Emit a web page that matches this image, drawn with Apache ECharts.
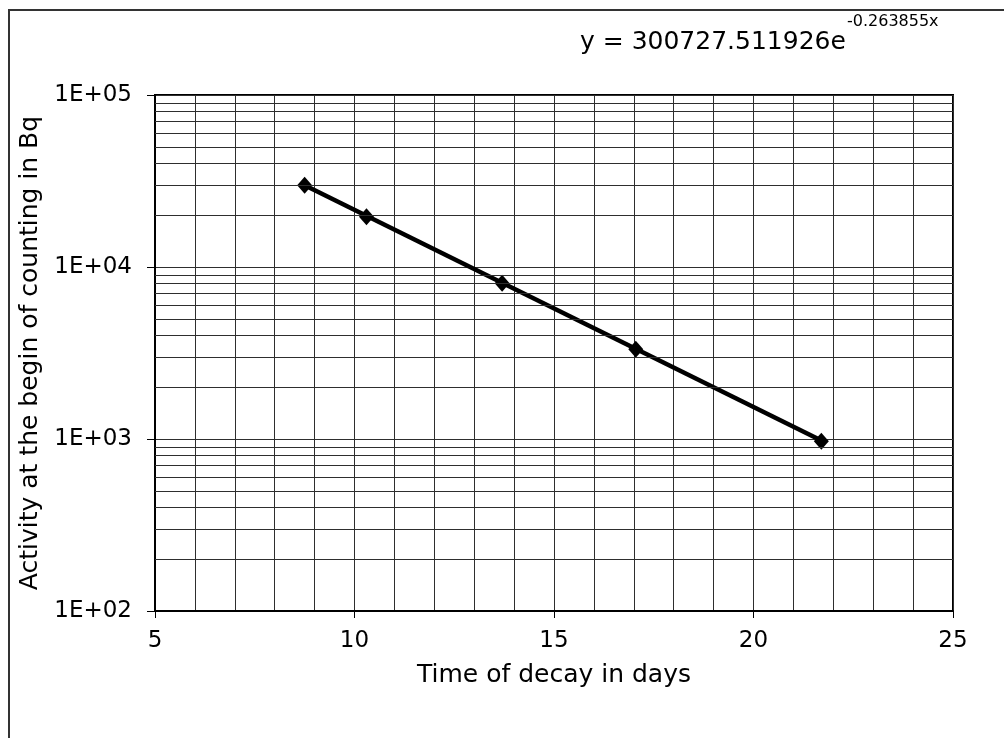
<!DOCTYPE html>
<html>
<head>
<meta charset="utf-8">
<script src="https://cdn.jsdelivr.net/npm/echarts@6/dist/echarts.min.js"></script>
<style>
  html, body { margin: 0; padding: 0; background: #fff; }
  #chart { width: 1004px; height: 738px; }
</style>
</head>
<body>
<div id="chart"></div>
<script>
// Measured decay: time since production (days) vs. activity at start of counting (Bq)
const decayDays = [8.75, 10.3, 13.7, 17.05, 21.7];
const activityBq = [29900, 19600, 8050, 3320, 970];

// Exponential trend line, drawn between its first and last points
const trendDays = [8.75, 21.7];
const trendBq = [29900, 980];

// Logarithmic gridlines between the decades
const minorGridValues = [
  200, 300, 400, 500, 600, 700, 800, 900,
  2000, 3000, 4000, 5000, 6000, 7000, 8000, 9000,
  20000, 30000, 40000, 50000, 60000, 70000, 80000, 90000
];

const xTicks = { min: 5, max: 25, interval: 5 };
const yRange = { min: 100, max: 100000 };

const equationMain = 'y = 300727.511926e';
const equationExp = '-0.263855x';

const FONT = '"DejaVu Sans", "Liberation Sans", Arial, sans-serif';
const GRID_COLOR = '#2e2e2e';

const chart = echarts.init(document.getElementById('chart'), null, { renderer: 'canvas' });

chart.setOption({
  backgroundColor: '#ffffff',
  animation: false,
  grid: {
    left: 155, top: 95, right: 51, bottom: 127,
    show: true, borderColor: '#000', borderWidth: 2, backgroundColor: 'transparent'
  },
  xAxis: {
    type: 'value',
    min: xTicks.min, max: xTicks.max, interval: xTicks.interval,
    name: 'Time of decay in days',
    nameLocation: 'middle', nameGap: 52,
    nameTextStyle: { color: '#000', fontFamily: FONT, fontSize: 25 },
    axisLine: { show: true, onZero: false, lineStyle: { color: '#000', width: 2 } },
    axisTick: { show: true, length: 7, lineStyle: { color: '#000', width: 1 } },
    axisLabel: { color: '#000', fontFamily: FONT, fontSize: 23, margin: 19 },
    splitLine: { show: true, lineStyle: { color: GRID_COLOR, width: 1 } },
    minorTick: { show: false, splitNumber: 5 },
    minorSplitLine: { show: true, lineStyle: { color: GRID_COLOR, width: 1 } }
  },
  yAxis: {
    type: 'log', logBase: 10,
    min: yRange.min, max: yRange.max,
    name: 'Activity at the begin of counting in Bq',
    nameLocation: 'middle', nameGap: 105,
    nameTextStyle: { color: '#000', fontFamily: FONT, fontSize: 25 },
    axisLine: { show: true, lineStyle: { color: '#000', width: 2 } },
    axisTick: { show: true, length: 8, lineStyle: { color: '#000', width: 1 } },
    axisLabel: {
      color: '#000', fontFamily: FONT, fontSize: 23, margin: 23,
      formatter: v => '1E+' + String(Math.round(Math.log10(v))).padStart(2, '0')
    },
    splitLine: { show: true, lineStyle: { color: GRID_COLOR, width: 1 } }
  },
  series: [
    {
      // carrier for the in-between logarithmic gridlines
      type: 'line',
      data: trendDays.map((d, i) => [d, trendBq[i]]),
      symbol: 'none',
      lineStyle: { opacity: 0 },
      silent: true,
      z: 1,
      markLine: {
        silent: true,
        symbol: ['none', 'none'],
        label: { show: false },
        lineStyle: { color: GRID_COLOR, width: 1, type: 'solid' },
        data: minorGridValues.map(v => ({ yAxis: v }))
      }
    },
    {
      name: 'Trend',
      type: 'line',
      data: trendDays.map((d, i) => [d, trendBq[i]]),
      symbol: 'none',
      lineStyle: { color: '#000', width: 4.5 },
      z: 3
    },
    {
      name: 'Activity',
      type: 'scatter',
      data: decayDays.map((d, i) => [d, activityBq[i]]),
      symbol: 'diamond',
      symbolSize: [15, 17],
      itemStyle: { color: '#000', opacity: 1 },
      z: 4
    }
  ],
  graphic: [
    {
      type: 'polyline',
      shape: { points: [[9, 738], [9, 10], [1004, 10]] },
      style: { stroke: '#333', lineWidth: 2, fill: null },
      silent: true
    },
    {
      type: 'text',
      x: 580, y: 42,
      style: {
        text: equationMain, fill: '#000', font: '25px ' + FONT,
        textAlign: 'left', textVerticalAlign: 'middle'
      }
    },
    {
      type: 'text',
      x: 847, y: 22,
      style: {
        text: equationExp, fill: '#000', font: '16px ' + FONT,
        textAlign: 'left', textVerticalAlign: 'middle'
      }
    }
  ]
});
</script>
</body>
</html>
